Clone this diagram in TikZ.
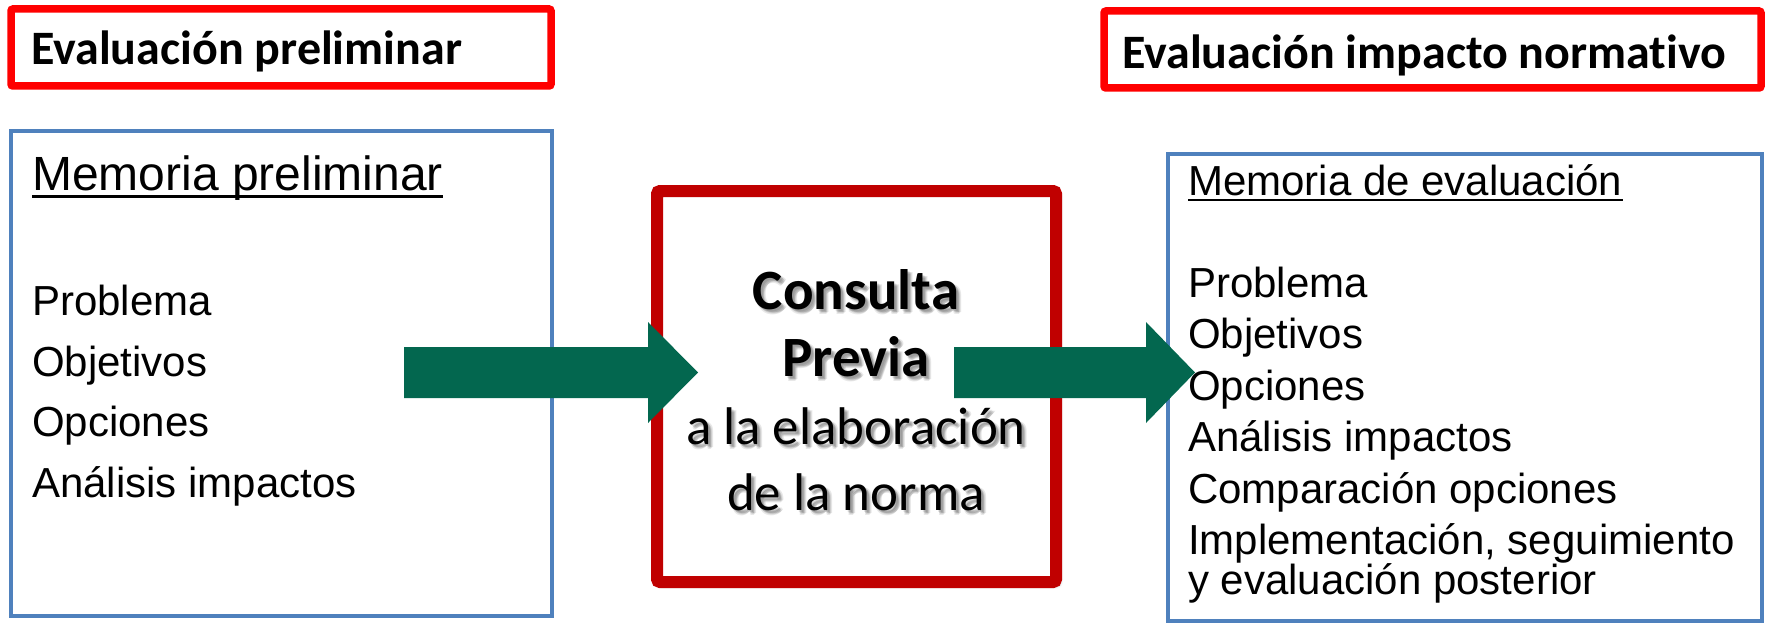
\documentclass[tikz,border=0pt]{standalone}
\usepackage{fontspec}
\setmainfont{Liberation Sans}
\newfontfamily\calibfont[Ligatures=NoCommon]{Carlito}
\usetikzlibrary{shadows.blur}
\definecolor{redA}{RGB}{255,0,0}
\definecolor{redB}{RGB}{192,0,0}
\definecolor{blueA}{RGB}{79,129,189}
\definecolor{greenA}{RGB}{3,103,79}
\begin{document}
\begin{tikzpicture}[x=1pt,y=-1pt,
  hdrbox/.style={draw=redA, line width=7.5pt, rounded corners=2pt},
  memobox/.style={draw=blueA, line width=4pt},
  consbox/.style={draw=redB, fill=white, line width=12pt, rounded corners=3pt,
    blur shadow={shadow xshift=3pt, shadow yshift=-3pt, shadow blur radius=4pt, shadow opacity=45}},
  blockarrow/.style={fill=greenA},
  hdrtxt/.style={inner sep=0pt, anchor=base west, font=\calibfont\bfseries\fontsize{48}{48}\selectfont},
  memohead/.style={inner sep=0pt, anchor=base west},
  itemtxt/.style={inner sep=0pt, anchor=base west, font=\fontsize{42}{42}\selectfont},
  consbold/.style={inner sep=0pt, anchor=base, font=\calibfont\bfseries\fontsize{57}{57}\selectfont},
  consreg/.style={inner sep=0pt, anchor=base, font=\calibfont\fontsize{53}{53}\selectfont},
  tshadow/.style={text=black, opacity=0.09},
  uline/.style={line width=3pt}
]
\useasboundingbox (0,0) rectangle (1766,623);

% boxes
\draw[memobox] (11,131) rectangle (552,616);
\draw[memobox] (1168,154) rectangle (1762,621);
\draw[hdrbox] (11,9) rectangle (551,86);
\draw[hdrbox] (1104,11) rectangle (1761,88);
\draw[consbox] (657,191) rectangle (1056,582);

% block arrows
\coordinate (a1s) at (404,372.5);
\coordinate (a1t) at (698,372.5);
\coordinate (a2s) at (954,372.5);
\coordinate (a2t) at (1195,372.5);
\fill[blockarrow] (a1s) ++(0,-25.5) -- ++(244,0) -- ++(0,-25) -- (a1t) -- ++(-50,50.5) -- ++(0,-25) -- ++(-244,0) -- cycle;
\fill[blockarrow] (a2s) ++(0,-25.5) -- ++(192,0) -- ++(0,-25) -- (a2t) -- ++(-49,50.5) -- ++(0,-25) -- ++(-192,0) -- cycle;

% header texts
\node[hdrtxt] (h1) at (31,65) {Evaluación preliminar};
\node[hdrtxt] (h2) at (1122,69) {Evaluación impacto normativo};

% left memo
\node[memohead, font=\fontsize{48}{48}\selectfont] (m1) at (32,190) {Memoria preliminar};
\draw[uline] ([yshift=-6pt]m1.base west) -- ([yshift=-6pt]m1.base east);
\node[itemtxt] (l1) at (32,315) {Problema};
\node[itemtxt] (l2) at (32,376) {Objetivos};
\node[itemtxt] (l3) at (32,436) {Opciones};
\node[itemtxt] (l4) at (32,497) {Análisis impactos};

% right memo
\node[memohead, font=\fontsize{42}{42}\selectfont] (m2) at (1188,195) {Memoria de evaluación};
\draw[uline, line width=2.6pt] ([yshift=-5pt]m2.base west) -- ([yshift=-5pt]m2.base east);
\node[itemtxt] (r1) at (1188,297) {Problema};
\node[itemtxt] (r2) at (1188,348) {Objetivos};
\node[itemtxt] (r3) at (1188,400) {Opciones};
\node[itemtxt] (r4) at (1188,451) {Análisis impactos};
\node[itemtxt] (r5) at (1188,503) {Comparación opciones};
\node[itemtxt] (r6) at (1188,554) {Implementación, seguimiento};
\node[itemtxt] (r7) at (1188,594) {y evaluación posterior};

% centre text with soft shadow
\foreach \dx/\dy [count=\k] in {2/2,3/3,4/4,3/5,5/3} {
  \node[consbold, tshadow] (c1s\k) at (856+\dx,309+\dy) {Consulta};
  \node[consbold, tshadow] (c2s\k) at (856+\dx,376+\dy) {Previa};
  \node[consreg, tshadow] (c3s\k) at (856+\dx,444+\dy) {a la elaboración};
  \node[consreg, tshadow] (c4s\k) at (856+\dx,510+\dy) {de la norma};
}
\node[consbold] (c1) at (856,309) {Consulta};
\node[consbold] (c2) at (856,376) {Previa};
\node[consreg] (c3) at (856,444) {a la elaboración};
\node[consreg] (c4) at (856,510) {de la norma};
\end{tikzpicture}
\end{document}
